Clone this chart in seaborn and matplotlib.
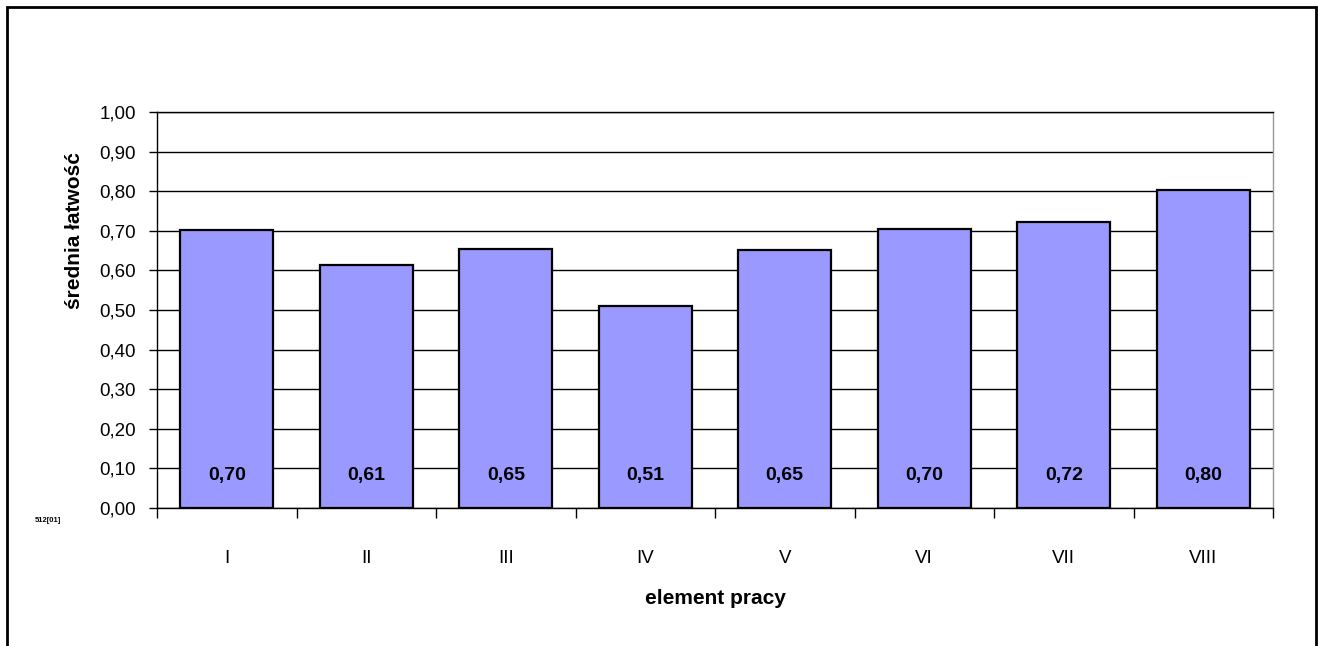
import numpy as np
import matplotlib
matplotlib.use("Agg")
import matplotlib.pyplot as plt
import matplotlib.patches as patches
import seaborn as sns

categories = ["I", "II", "III", "IV", "V", "VI", "VII", "VIII"]
values = [0.702, 0.614, 0.654, 0.510, 0.651, 0.704, 0.721, 0.803]
y_ticks = [0.0, 0.1, 0.2, 0.3, 0.4, 0.5, 0.6, 0.7, 0.8, 0.9, 1.0]

sns.set_style("white")
plt.rcParams["font.family"] = ["Liberation Sans", "DejaVu Sans"]
plt.rcParams["text.color"] = "black"
plt.rcParams["axes.labelcolor"] = "black"
plt.rcParams["xtick.color"] = "black"
plt.rcParams["ytick.color"] = "black"

W, H = 1318, 646
fig = plt.figure(figsize=(W / 100, H / 100), dpi=100)
ax = fig.add_axes([157 / W, 1 - 508 / H, (1273 - 157) / W, (508 - 112) / H])

sns.barplot(x=categories, y=values, color="#9999FF", saturation=1,
            edgecolor="black", linewidth=1.6, width=0.67, ax=ax, zorder=3)

ax.set_ylim(0, 1)
ax.set_xlim(-0.5, len(categories) - 0.5)

# y axis
ax.set_yticks(y_ticks)
ax.set_yticklabels([f"{t:.2f}".replace(".", ",") for t in y_ticks], fontsize=13.5)
ax.tick_params(axis="y", left=True, length=6, width=1, color="black", pad=9)
ax.yaxis.grid(True, color="black", linewidth=1)
ax.set_axisbelow(True)

# x axis: ticks between categories, labels at centres
ax.set_xticks(np.arange(len(categories) + 1) - 0.5)
ax.set_xticklabels([])
ax.set_xticks(np.arange(len(categories)), minor=True)
ax.set_xticklabels(categories, minor=True, fontsize=13.5)
ax.tick_params(axis="x", which="major", bottom=True, length=7, width=1, color="black")
ax.tick_params(axis="x", which="minor", bottom=False, length=0, pad=30)

for s in ["left", "bottom", "top"]:
    ax.spines[s].set_color("black")
    ax.spines[s].set_linewidth(1)
ax.spines["right"].set_color("#999999")
ax.spines["right"].set_linewidth(1)

# value labels inside bars
for i, v in enumerate(values):
    ax.text(i, 0.082, f"{v:.2f}".replace(".", ","), ha="center", va="center",
            fontsize=14, fontweight="bold", color="black", zorder=5)

ax.set_xlabel("element pracy", fontsize=15, fontweight="bold")
ax.xaxis.set_label_coords(0.5, -0.205)
ax.set_ylabel("średnia łatwość", fontsize=15, fontweight="bold")
ax.yaxis.label.set_va("center")
ax.yaxis.set_label_coords(-0.0735, 0.70)

fig.text(35 / W, 1 - 520 / H, "512[01]", fontsize=5.5, fontweight="bold",
         ha="left", va="center")

# outer frame
fig.patches.append(patches.Rectangle((7 / W, -0.05), (1316 - 7) / W, 1 - 7 / H + 0.05,
                                     transform=fig.transFigure, fill=False,
                                     edgecolor="black", linewidth=2, clip_on=False))

fig.savefig("out.png", dpi=100)
